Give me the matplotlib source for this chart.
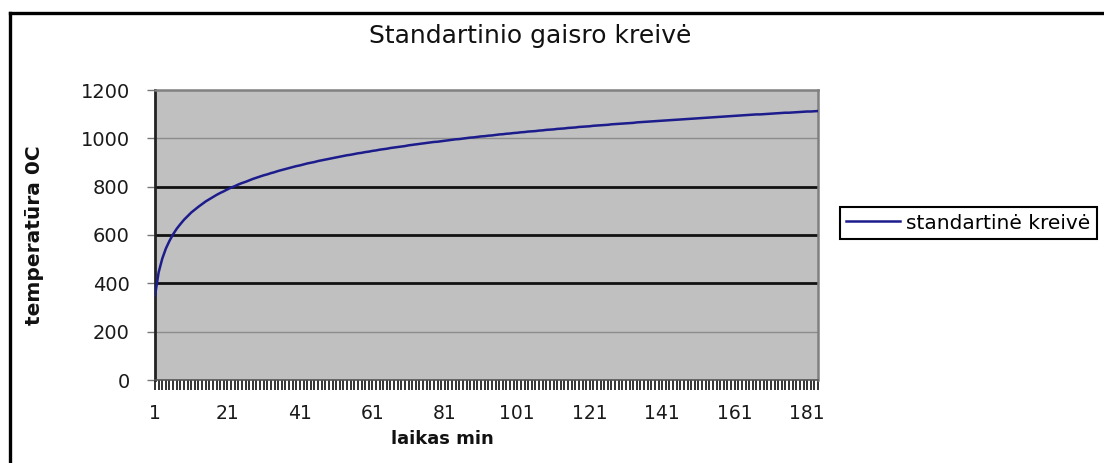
import matplotlib
matplotlib.use("Agg")
import matplotlib.pyplot as plt
from matplotlib.lines import Line2D
from matplotlib.ticker import MultipleLocator, FixedLocator

# --- data: minute -> temperature (degC) ---
minutes = list(range(1, 185))
temperature = [
    349, 445, 502, 544, 576, 603, 626, 645, 663, 678,
    693, 705, 717, 728, 739, 748, 757, 766, 774, 781,
    789, 796, 802, 809, 815, 820, 826, 832, 837, 842,
    847, 851, 856, 860, 865, 869, 873, 877, 881, 885,
    888, 892, 896, 899, 902, 906, 909, 912, 915, 918,
    921, 924, 927, 930, 932, 935, 938, 940, 943, 945,
    948, 950, 953, 955, 957, 960, 962, 964, 966, 968,
    971, 973, 975, 977, 979, 981, 983, 985, 986, 988,
    990, 992, 994, 996, 997, 999, 1001, 1003, 1004, 1006,
    1008, 1009, 1011, 1012, 1014, 1016, 1017, 1019, 1020, 1022,
    1023, 1025, 1026, 1028, 1029, 1030, 1032, 1033, 1035, 1036,
    1037, 1039, 1040, 1041, 1043, 1044, 1045, 1047, 1048, 1049,
    1050, 1052, 1053, 1054, 1055, 1056, 1058, 1059, 1060, 1061,
    1062, 1063, 1064, 1066, 1067, 1068, 1069, 1070, 1071, 1072,
    1073, 1074, 1075, 1076, 1077, 1078, 1079, 1080, 1081, 1082,
    1083, 1084, 1085, 1086, 1087, 1088, 1089, 1090, 1091, 1092,
    1093, 1094, 1095, 1096, 1097, 1098, 1099, 1099, 1100, 1101,
    1102, 1103, 1104, 1105, 1106, 1106, 1107, 1108, 1109, 1110,
    1111, 1111, 1112, 1113,
]
x_labels = [1, 21, 41, 61, 81, 101, 121, 141, 161, 181]
y_ticks = [0, 200, 400, 600, 800, 1000, 1200]
dark_grid = [400, 600, 800]

title = "Standartinio gaisro kreivė"
series_name = "standartinė kreivė"
xlabel = "laikas min"
ylabel = "temperatūra 0C"

W, H = 1104, 463
fig = plt.figure(figsize=(W / 100, H / 100), dpi=100)
fig.patch.set_facecolor("white")

# plot area in pixel terms
L, R, T, B = 155, 818, 90, 380
ax = fig.add_axes([L / W, (H - B) / H, (R - L) / W, (B - T) / H])
ax.set_facecolor("#c0c0c0")

ax.plot(minutes, temperature, color="#1c1c8c", lw=1.8, label=series_name, zorder=3)

ax.set_xlim(minutes[0], minutes[-1])
ax.set_ylim(y_ticks[0], y_ticks[-1])

# axes / ticks
ax.xaxis.set_major_locator(FixedLocator(x_labels))
ax.xaxis.set_minor_locator(MultipleLocator(1))
ax.set_yticks(y_ticks)
ax.tick_params(axis="x", which="both", direction="out", length=7, width=1.2,
               color="#111111", labelsize=13.5, labelcolor="#1a1a1a", pad=10)
ax.tick_params(axis="y", direction="out", length=6, width=1, color="#777777",
               labelsize=14, labelcolor="#1a1a1a", pad=12)

for side in ["top", "right"]:
    ax.spines[side].set_color("#808080")
    ax.spines[side].set_linewidth(1.8)
ax.spines["left"].set_color("#222222")
ax.spines["left"].set_linewidth(2)
ax.spines["bottom"].set_color("#555555")
ax.spines["bottom"].set_linewidth(1.2)

# gridlines: some dark, some light (as in the picture)
for yv in y_ticks[1:-1]:
    if yv in dark_grid:
        ax.axhline(yv, color="#111111", lw=2, zorder=1)
    else:
        ax.axhline(yv, color="#8c8c8c", lw=1, zorder=1)

ax.set_ylabel(ylabel, fontsize=14.5, fontweight="bold", color="#111111")
ax.yaxis.set_label_coords((44 - L) / (R - L), 0.5)
ax.set_xlabel(xlabel, fontsize=13, fontweight="bold", color="#111111")
ax.xaxis.set_label_coords((442 - L) / (R - L), (B - 430) / (B - T))

fig.text(530 / W, 1 - 36 / H, title, ha="center", va="center",
         fontsize=18, color="#111111")

leg = ax.legend(loc="center left", bbox_to_anchor=(840 / W, 1 - 223 / H),
                bbox_transform=fig.transFigure, fontsize=14.5, frameon=True,
                fancybox=False, framealpha=1, edgecolor="black",
                handlelength=2.7, handletextpad=0.3, borderpad=0.3,
                borderaxespad=0)
leg.get_frame().set_linewidth(1.5)

# outer frame (left and top edges visible)
fig.add_artist(Line2D([9.5 / W, 9.5 / W], [0, 1 - 12.5 / H], transform=fig.transFigure,
                      color="black", lw=2.4))
fig.add_artist(Line2D([9.5 / W, 1], [1 - 12.5 / H, 1 - 12.5 / H], transform=fig.transFigure,
                      color="black", lw=2.4))

fig.savefig("out.png", dpi=100)
